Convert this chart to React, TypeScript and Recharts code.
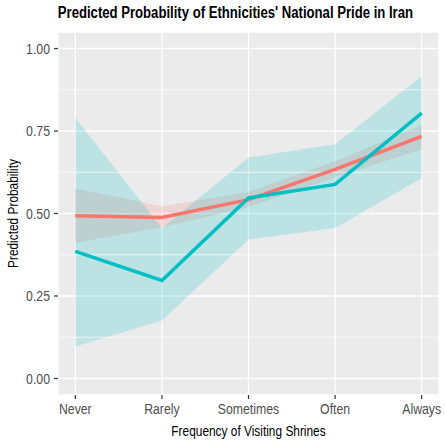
import React from "react";
import {
  ComposedChart,
  Area,
  Line,
  XAxis,
  YAxis,
  CartesianGrid,
  ReferenceLine,
  Label,
} from "recharts";

const categories = ["Never", "Rarely", "Sometimes", "Often", "Always"];

// persian (red) series
const persianFit = [0.493, 0.488, 0.542, 0.634, 0.734];
const persianLow = [0.411, 0.458, 0.52, 0.61, 0.695];
const persianHigh = [0.576, 0.522, 0.565, 0.658, 0.768];

// ethnic minority (teal) series
const minorityFit = [0.385, 0.297, 0.547, 0.588, 0.804];
const minorityLow = [0.097, 0.176, 0.421, 0.456, 0.607];
const minorityHigh = [0.79, 0.455, 0.67, 0.71, 0.916];

const yTicks = [0, 0.25, 0.5, 0.75, 1];
const yMinor = [0.125, 0.375, 0.625, 0.875];

const font = "'Liberation Sans', Arial, sans-serif";
const squeeze = 0.82; // no narrow font installed, so squash horizontally

function XTick(props: any) {
  const { x, y, payload } = props;
  return (
    <g transform={`translate(${x},${y + 13})`}>
      <text
        transform={`scale(${squeeze},1)`}
        textAnchor="middle"
        fill="#4D4D4D"
        fontSize={15}
        fontFamily={font}
      >
        {categories[payload.value]}
      </text>
    </g>
  );
}

function YTick(props: any) {
  const { x, y, payload } = props;
  return (
    <g transform={`translate(${x - 1},${y + 5})`}>
      <text
        transform={`scale(${squeeze},1)`}
        textAnchor="end"
        fill="#4D4D4D"
        fontSize={15}
        fontFamily={font}
      >
        {Number(payload.value).toFixed(2)}
      </text>
    </g>
  );
}

export default function App() {
  const data = categories.map((name, i) => ({
    x: i,
    name,
    persian: persianFit[i],
    persianBand: [persianLow[i], persianHigh[i]],
    minority: minorityFit[i],
    minorityBand: [minorityLow[i], minorityHigh[i]],
  }));

  return (
    <div
      style={{
        position: "absolute",
        left: 0,
        top: 0,
        width: 445,
        height: 444,
        background: "#fff",
        fontFamily: font,
      }}
    >
      <div
        style={{
          position: "absolute",
          top: 4,
          left: 8,
          width: 455,
          textAlign: "center",
          fontWeight: "bold",
          fontSize: 16,
          color: "#000",
          whiteSpace: "nowrap",
          transform: `scaleX(${squeeze})`,
          transformOrigin: "227px 0",
        }}
      >
        Predicted Probability of Ethnicities' National Pride in Iran
      </div>
      <ComposedChart
        width={445}
        height={444}
        data={data}
        margin={{ top: 32, right: 6, left: 0, bottom: 0 }}
      >
        <CartesianGrid fill="#EBEBEB" stroke="#fff" strokeWidth={1.3} />
        {yMinor.map((v) => (
          <ReferenceLine key={v} y={v} stroke="#fff" strokeWidth={0.7} />
        ))}
        <XAxis
          type="number"
          dataKey="x"
          domain={[-0.2, 4.2]}
          ticks={[0, 1, 2, 3, 4]}
          allowDataOverflow
          height={49}
          axisLine={false}
          tickSize={4}
          tickLine={{ stroke: "#333", strokeWidth: 1.2 }}
          tick={<XTick />}
          tickMargin={2}
        >
          <Label
            content={(p: any) => {
              const vb = p.viewBox;
              return (
                <g transform={`translate(${vb.x + vb.width / 2},${vb.y + 41})`}>
                  <text
                    transform={`scale(${squeeze},1)`}
                    textAnchor="middle"
                    fill="#000"
                    fontSize={14.5}
                    fontFamily={font}
                  >
                    Frequency of Visiting Shrines
                  </text>
                </g>
              );
            }}
          />
        </XAxis>
        <YAxis
          type="number"
          domain={[-0.05, 1.05]}
          ticks={yTicks}
          allowDataOverflow
          width={58}
          axisLine={false}
          tickSize={4}
          tickLine={{ stroke: "#333", strokeWidth: 1.2 }}
          tick={<YTick />}
          tickMargin={3}
        >
          <Label
            content={(p: any) => {
              const vb = p.viewBox;
              return (
                <g transform={`translate(${vb.x + 18},${vb.y + vb.height / 2}) rotate(-90)`}>
                  <text
                    transform={`scale(${squeeze},1)`}
                    textAnchor="middle"
                    fill="#000"
                    fontSize={14.5}
                    fontFamily={font}
                  >
                    Predicted Probability
                  </text>
                </g>
              );
            }}
          />
        </YAxis>
        <Area
          type="linear"
          dataKey="persianBand"
          stroke="none"
          fill="#F8766D"
          fillOpacity={0.2}
          isAnimationActive={false}
          activeDot={false}
        />
        <Area
          type="linear"
          dataKey="minorityBand"
          stroke="none"
          fill="#00BFC4"
          fillOpacity={0.2}
          isAnimationActive={false}
          activeDot={false}
        />
        <Line
          type="linear"
          dataKey="persian"
          stroke="#F8766D"
          strokeWidth={3.5}
          dot={false}
          activeDot={false}
          isAnimationActive={false}
        />
        <Line
          type="linear"
          dataKey="minority"
          stroke="#00BFC4"
          strokeWidth={3.5}
          dot={false}
          activeDot={false}
          isAnimationActive={false}
        />
      </ComposedChart>
    </div>
  );
}
